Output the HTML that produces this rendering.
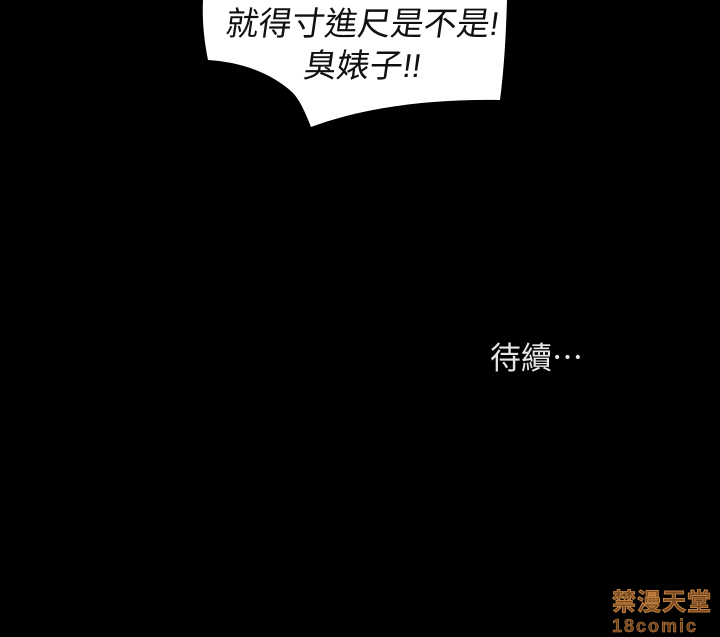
<!DOCTYPE html>
<html><head><meta charset="utf-8"><style>
html,body{margin:0;padding:0;background:#000;}
#panel{position:relative;width:720px;height:637px;background:#000;overflow:hidden;font-family:"Liberation Sans","Noto Sans CJK TC",sans-serif;}
.t{position:absolute;white-space:nowrap;line-height:1;}
</style></head><body>
<div id="panel">
<svg width="720" height="637" style="position:absolute;left:0;top:0">
<path d="M203,0 L507,0 C506,35 504,70 500,100 C440,99 370,105 311,127 C305,112 300,100 292,92 C270,72 240,62 208,60 C204,40 202,20 203,0 Z" fill="#fff"/>
</svg>
<div class="t" style="left:226px;top:7px;font-size:33px;color:#111;transform:skewX(-8deg);">就得寸進尺是不是!</div>
<div class="t" style="left:304px;top:49px;font-size:33px;color:#111;transform:skewX(-8deg);">臭婊子!!</div>
<div class="t" style="left:490px;top:343px;font-size:31px;color:#e6e6e6;">待續⋯</div>
<div class="t" style="left:612px;top:591px;font-size:24px;font-weight:bold;color:#7a4a22;-webkit-text-stroke:1px #c08040;letter-spacing:1px;">禁漫天堂</div>
<div class="t" style="left:612px;top:617px;font-size:18px;font-weight:bold;color:#6a4020;-webkit-text-stroke:0.6px #c08040;letter-spacing:2px;">18comic</div>
</div>
</body></html>
